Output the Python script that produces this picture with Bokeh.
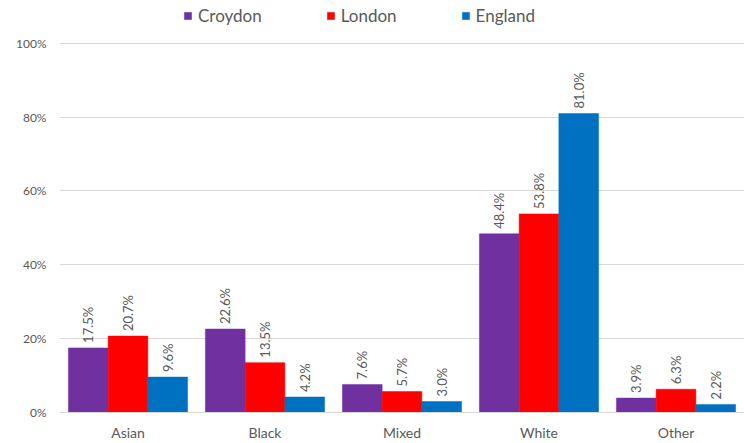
from bokeh.plotting import figure
from bokeh.models import ColumnDataSource, FactorRange, Range1d, FixedTicker, Legend, LegendItem, CustomJSTickFormatter
from bokeh.transform import dodge
from bokeh.core.properties import value
from bokeh.embed import file_html
from bokeh.resources import INLINE
import math

categories = ["Asian", "Black", "Mixed", "White", "Other"]
series_names = ["Croydon", "London", "England"]
croydon = [17.5, 22.6, 7.6, 48.4, 3.9]
london = [20.7, 13.5, 5.7, 53.8, 6.3]
england = [9.6, 4.2, 3.0, 81.0, 2.2]
colors = ["#7030A0", "#FF0000", "#0070C0"]
y_ticks = [0, 20, 40, 60, 80, 100]

FONT = "Lato"

p = figure(width=744, height=443, output_backend="svg", toolbar_location=None,
           x_range=FactorRange(*categories, range_padding=0),
           y_range=Range1d(0, 111.6),
           min_border_left=59, min_border_right=0, min_border_top=0, min_border_bottom=30)
p.outline_line_color = None
p.x_range.range_padding = 0

bw = 0.29
offsets = [-bw, 0, bw]
renderers = []
for name, vals, col, off in zip(series_names, [croydon, london, england], colors, offsets):
    src = ColumnDataSource(dict(cat=categories, val=vals,
                                lbl=[f"{v:.1f}%" for v in vals]))
    r = p.vbar(x=dodge("cat", off, range=p.x_range), top="val", width=bw, source=src,
               fill_color=col, line_color=col, line_width=0.5)
    renderers.append(r)
    p.text(x=dodge("cat", off, range=p.x_range), y="val", text="lbl", source=src,
           angle=math.pi / 2, text_align="left", text_baseline="middle",
           x_offset=0, y_offset=-5, text_font=value(FONT), text_font_size="13px",
           text_color="#595959")

p.yaxis.ticker = FixedTicker(ticks=y_ticks)
p.yaxis.formatter = CustomJSTickFormatter(code="return tick + '%';")
p.yaxis.axis_line_color = None
p.yaxis.major_tick_line_color = None
p.yaxis.minor_tick_line_color = None
p.yaxis.major_tick_out = 0
p.yaxis.major_tick_in = 0
p.yaxis.major_label_standoff = 13
p.yaxis.major_label_text_font = FONT
p.yaxis.major_label_text_font_size = "12px"
p.yaxis.major_label_text_color = "#595959"

p.xaxis.axis_line_color = "#d9d9d9"
p.xaxis.major_tick_line_color = None
p.xaxis.minor_tick_line_color = None
p.xaxis.major_tick_out = 0
p.xaxis.major_tick_in = 0
p.xaxis.major_label_standoff = 11
p.xaxis.major_label_text_font = FONT
p.xaxis.major_label_text_font_size = "14px"
p.xaxis.major_label_text_color = "#595959"

p.xgrid.grid_line_color = None
p.ygrid.ticker = FixedTicker(ticks=y_ticks)
p.ygrid.grid_line_color = "#d9d9d9"

legend = Legend(items=[LegendItem(label=n, renderers=[r]) for n, r in zip(series_names, renderers)],
                orientation="horizontal", location=(124, 386),
                glyph_width=9, glyph_height=9, label_standoff=6, spacing=64,
                padding=0, margin=0, border_line_color=None, background_fill_alpha=0,
                label_text_font=FONT, label_text_font_size="17px", label_text_color="#595959",
                label_height=20)
p.add_layout(legend)

open("out.html", "w").write(file_html(p, INLINE))
